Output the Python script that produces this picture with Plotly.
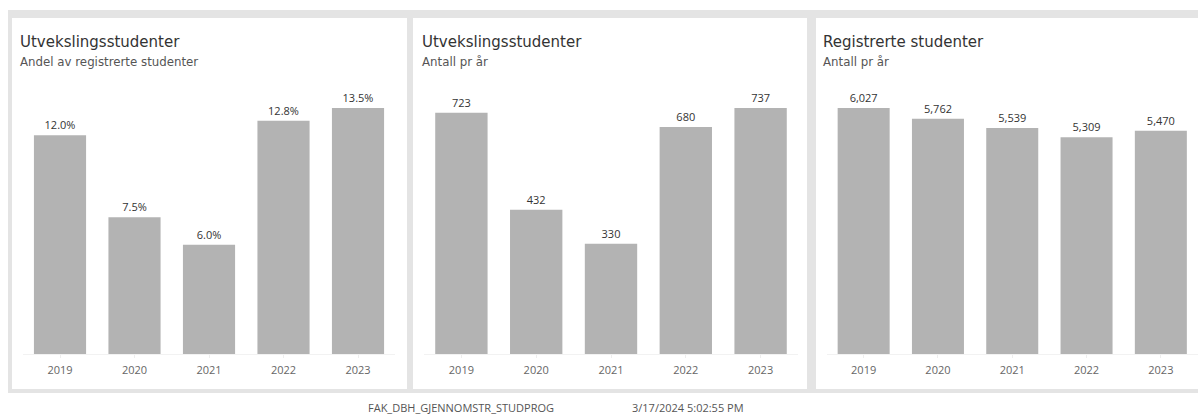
import plotly.graph_objects as go

years = ["2019", "2020", "2021", "2022", "2023"]
andel_pct = [12.0, 7.5, 6.0, 12.8, 13.5]
utveksling_antall = [723, 432, 330, 680, 737]
registrerte_antall = [6027, 5762, 5539, 5309, 5470]

titles = ["Utvekslingsstudenter", "Utvekslingsstudenter", "Registrerte studenter"]
subtitles = ["Andel av registrerte studenter", "Antall pr år", "Antall pr år"]
footer_left = "FAK_DBH_GJENNOMSTR_STUDPROG"
footer_right = "3/17/2024 5:02:55 PM"

W, H = 1198, 414
FONT = "Open Sans"
TFONT = "DejaVu Sans"
BAR = "#b3b3b3"
BG = "#e4e4e4"

def px(x):
    return x / W

def py(y):
    return 1 - y / H

fig = go.Figure()

series = [
    (andel_pct, "%{y:.1f}%"),
    (utveksling_antall, "%{y:,}"),
    (registrerte_antall, "%{y:,}"),
]
xdomains = [(22.75, 395.25), (424.0, 798.0), (826.5, 1198.5)]
panels = [(12, 407), (413, 807), (816, 1198)]
title_x = [18, 420, 821]

plot_top, baseline, bar_top = 100, 354, 108

for i, (vals, tmpl) in enumerate(series):
    ax = "" if i == 0 else str(i + 1)
    fig.add_trace(go.Bar(
        x=years, y=vals, marker_color=BAR, marker_line_width=0,
        texttemplate=tmpl, textposition="outside", cliponaxis=False,
        textfont=dict(family=FONT, size=11, color="#333333"),
        xaxis="x" + ax, yaxis="y" + ax, showlegend=False, hoverinfo="skip",
    ))
    rmax = max(vals) * (baseline - plot_top) / (baseline - bar_top)
    d = xdomains[i]
    fig.update_layout(**{
        "xaxis" + ax: dict(
            domain=[px(d[0]), min(1.0, px(d[1]))], anchor="y" + ax, type="category",
            showgrid=False, showline=True, linecolor="#f2f2f2", linewidth=1,
            ticks="outside", ticklen=3, tickcolor="#eeeeee",
            ticklabelstandoff=3,
            tickfont=dict(family=FONT, size=11, color="#666666"),
            fixedrange=True,
        ),
        "yaxis" + ax: dict(
            domain=[py(baseline), py(plot_top)], anchor="x" + ax,
            range=[0, rmax], visible=False, fixedrange=True,
        ),
    })

shapes = [
    dict(type="rect", xref="paper", yref="paper", x0=px(8), x1=1.0,
         y0=py(393), y1=py(10), fillcolor=BG, line_width=0, layer="below"),
]
for (l, r) in panels:
    shapes.append(dict(type="rect", xref="paper", yref="paper", x0=px(l), x1=px(r),
                       y0=py(389), y1=py(18), fillcolor="white", line_width=0, layer="below"))

annotations = []
for i in range(3):
    annotations.append(dict(text=titles[i], xref="paper", yref="paper",
                            x=px(title_x[i]), y=py(42), xanchor="left", yanchor="middle",
                            showarrow=False, font=dict(family=TFONT, size=15, color="#333333")))
    annotations.append(dict(text=subtitles[i], xref="paper", yref="paper",
                            x=px(title_x[i]), y=py(62), xanchor="left", yanchor="middle",
                            showarrow=False, font=dict(family=TFONT, size=11.8, color="#555555")))
annotations.append(dict(text=footer_left, xref="paper", yref="paper", x=px(366), y=py(407),
                        xanchor="left", yanchor="middle", showarrow=False,
                        font=dict(family=FONT, size=11, color="#555555")))
annotations.append(dict(text=footer_right, xref="paper", yref="paper", x=px(630), y=py(407),
                        xanchor="left", yanchor="middle", showarrow=False,
                        font=dict(family=FONT, size=11, color="#555555")))

fig.update_layout(
    width=W, height=H, margin=dict(l=0, r=0, t=0, b=0),
    paper_bgcolor="white", plot_bgcolor="rgba(0,0,0,0)",
    bargap=0.3, shapes=shapes, annotations=annotations,
    font=dict(family=FONT),
)

fig.write_html("out.html")
